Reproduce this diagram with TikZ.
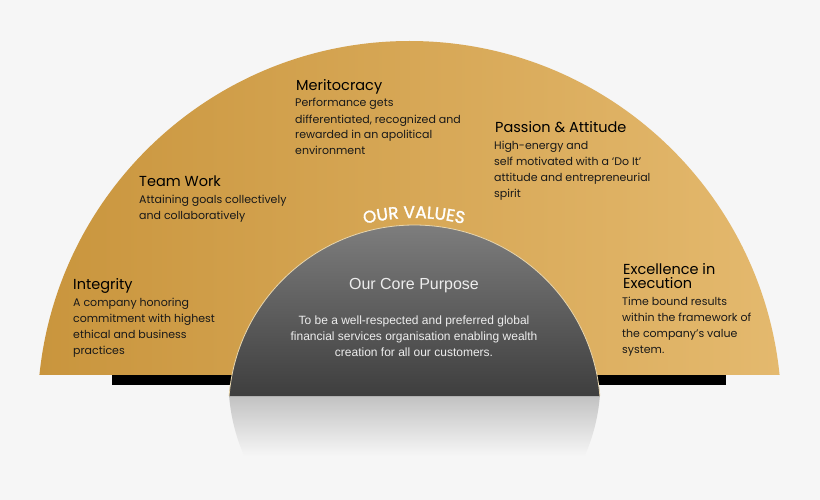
\documentclass[tikz,border=0pt]{standalone}
\usepackage{fontspec}
\newfontfamily\agfont{Poppins}
\newfontfamily\agsemi{Poppins}[FakeBold=1.6]
\newfontfamily\hvfont{Liberation Sans}
\usetikzlibrary{decorations.text}
\definecolor{bg}{HTML}{F6F6F6}
\definecolor{goldL}{HTML}{C9953D}
\definecolor{goldR}{HTML}{E4B96E}
\definecolor{greyT}{HTML}{808080}
\definecolor{greyB}{HTML}{3E3E3E}
\definecolor{refl}{HTML}{C2C2C2}
\definecolor{rim}{HTML}{E8D6AE}
\definecolor{coretext}{HTML}{EDEDED}
\tikzset{
  ttl/.style={font=\agfont\fontsize{14.5}{14}\selectfont, anchor=base west, inner sep=0pt, text=black, align=left},
  bdy/.style={font=\agfont\fontsize{11}{16}\selectfont, anchor=base west, inner sep=0pt, text=black!90, align=left},
  corettl/.style={font=\hvfont\fontsize{16}{16}\selectfont, anchor=base, inner sep=0pt, text=coretext},
  corebdy/.style={font=\hvfont\fontsize{12}{16}\selectfont, anchor=base, inner sep=0pt, text=coretext, align=center},
  bar/.style={fill=black}
}
\begin{document}
\begin{tikzpicture}[x=1pt,y=-1pt]
\useasboundingbox (0,0) rectangle (820,500);
\fill[bg] (0,0) rectangle (820,500);
% black bars
\fill[bar] (112,374) rectangle (232,385);
\fill[bar] (597,374) rectangle (726,385);
% big gold half disc
\begin{scope}
  \clip (0,0) rectangle (820,374);
  \shade[left color=goldL, right color=goldR] (409.5,413) circle (372);
\end{scope}
% reflection
\begin{scope}
  \clip (229.1,396) arc[start angle=175.37, end angle=4.63, radius=186] -- cycle;
  \shade[top color=refl, bottom color=bg] (220,396) rectangle (610,456);
\end{scope}
% grey dome
\shade[top color=greyT, bottom color=greyB] (229.1,396) arc[start angle=184.63, end angle=355.37, radius=186] -- cycle;
\draw[rim, line width=0.8pt] (229.1,396) arc[start angle=184.63, end angle=355.37, radius=186];
% OUR VALUES
\coordinate (ovc) at (414,428);
\path[decorate, decoration={text along path, text align=center, text color=white,
  text={|\agsemi\fontsize{17}{17}\selectfont|OUR VALUES}}]
  (ovc) ++(240:210) arc[start angle=240, end angle=300, radius=210];
% values (anchor = baseline of last line)
\node[ttl] (merT) at (296,91) {Meritocracy};
\node[bdy] (merB) at (295,155) {Performance gets\\differentiated, recognized and\\rewarded in an apolitical\\environment};
\node[ttl] (teamT) at (139,187) {Team Work};
\node[bdy] (teamB) at (139,219) {Attaining goals collectively\\and collaboratively};
\node[ttl] (pasT) at (495,133) {Passion \& Attitude};
\node[bdy] (pasB) at (494,197) {High-energy and\\self motivated with a ‘Do It’\\attitude and entrepreneurial\\spirit};
\node[ttl] (intT) at (73,289) {Integrity};
\node[bdy] (intB) at (73,354) {A company honoring\\commitment with highest\\ethical and business\\practices};
\node[ttl] (excT) at (623,288) {Excellence in\\Execution};
\node[bdy] (excB) at (622,353) {Time bound results\\within the framework of\\the company’s value\\system.};
% core purpose
\node[corettl] (coreT) at (414,289) {Our Core Purpose};
\node[corebdy] (coreB) at (414,356) {To be a well-respected and preferred global\\financial services organisation enabling wealth\\creation for all our customers.};
\end{tikzpicture}
\end{document}
